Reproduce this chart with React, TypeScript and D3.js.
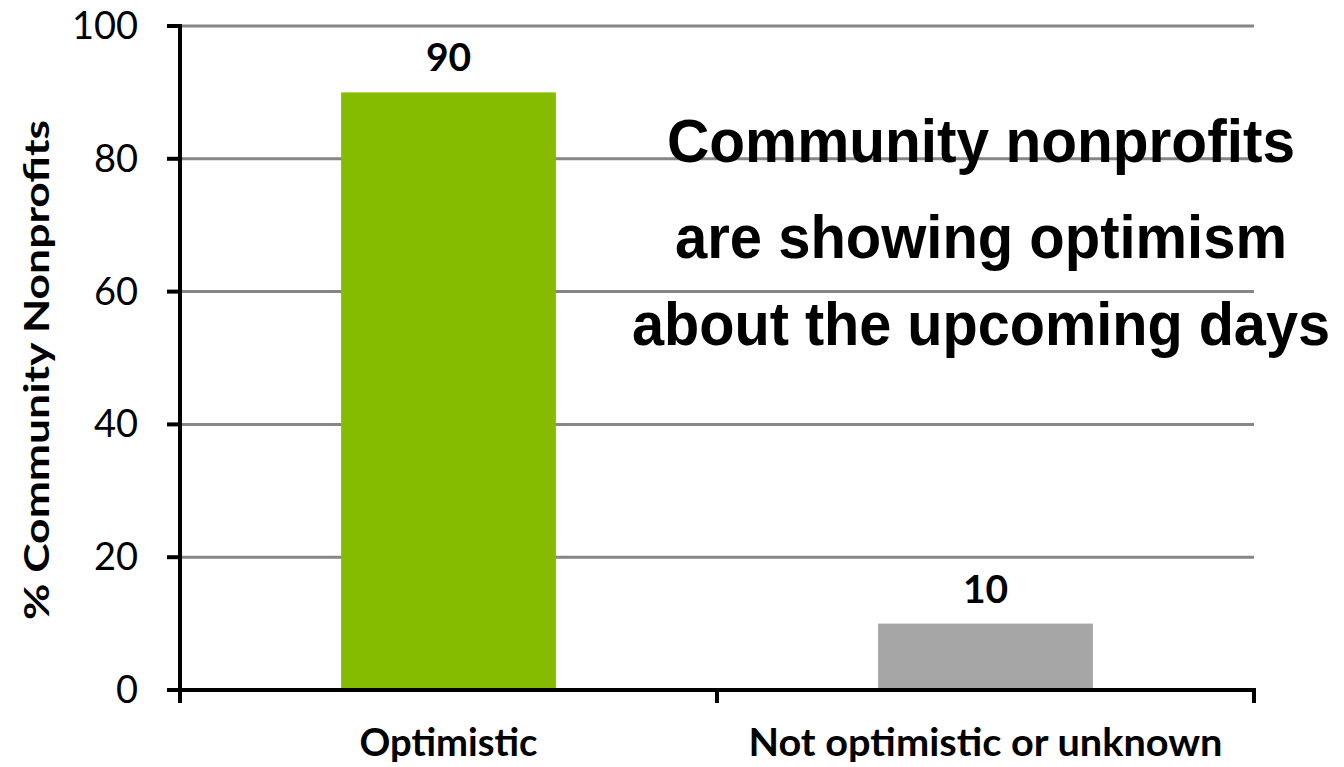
import React, { useLayoutEffect, useRef, useState } from "react";
import * as d3 from "d3";

const categories = ["Optimistic", "Not optimistic or unknown"];
const values = [90, 10];
const barColors = ["#86BC00", "#A6A6A6"];
const yTicks = [0, 20, 40, 60, 80, 100];
const yTitle = "% Community Nonprofits";
const annotation = ["Community nonprofits", "are showing optimism", "about the upcoming days"];

const W = 1344;
const H = 767;
const left = 180;
const right = 1254;
const top = 26;
const bottom = 690;

const annoLines = [
  { y: 162, len: 628, cx: 981 },
  { y: 258, len: 612, cx: 981 },
  { y: 345, len: 698, cx: 981 },
];

export default function App() {
  const x = d3.scaleBand<string>().domain(categories).range([left, right]).paddingInner(0.6).paddingOuter(0.3);
  const y = d3.scaleLinear().domain([0, 100]).range([bottom, top]);
  const step = x.step();
  const boundaries = [left, left + step, right];
  const font = "Lato, 'Open Sans', sans-serif";
  const annoFont = "'Liberation Sans', Arial, sans-serif";
  const xLabelLen = [178, 474];
  const refs = useRef<(SVGTextElement | null)[]>([]);
  const [scales, setScales] = useState<number[]>([0.96, 0.95, 0.94]);
  useLayoutEffect(() => {
    const s = annoLines.map((l, i) => {
      const el = refs.current[i];
      const w = el ? el.getComputedTextLength() : 0;
      return w > 0 ? l.len / w : 0.95;
    });
    if (s.some((v, i) => Math.abs(v - scales[i]) > 0.001)) setScales(s);
  }, []);
  return (
    <div style={{ position: "fixed", left: 0, top: 0 }}>
      <svg width={W} height={H} style={{ display: "block", background: "#fff" }}>
        {yTicks.filter((t) => t > 0).map((t) => (
          <line key={"g" + t} x1={left} x2={right} y1={y(t)} y2={y(t)} stroke="#868686" strokeWidth={3} />
        ))}
        {categories.map((c, i) => (
          <rect key={c} x={x(c)} y={y(values[i])} width={x.bandwidth()} height={y(0) - y(values[i])} fill={barColors[i]} />
        ))}
        {categories.map((c, i) => (
          <text key={"v" + c} x={(x(c) as number) + x.bandwidth() / 2} y={y(values[i]) - 21} textAnchor="middle"
            fontFamily={font} fontWeight="bold" fontSize={39} fill="#000">{values[i]}</text>
        ))}
        {/* y axis */}
        <line x1={left} x2={left} y1={top - 2} y2={703} stroke="#000" strokeWidth={4} />
        {yTicks.map((t) => (
          <g key={"t" + t}>
            <line x1={167} x2={left} y1={y(t)} y2={y(t)} stroke="#000" strokeWidth={4} />
            <text x={138} y={y(t) + 13} textAnchor="end" fontFamily={font} fontSize={38} fill="#000">{t}</text>
          </g>
        ))}
        {/* x axis */}
        <line x1={167} x2={right + 2} y1={bottom} y2={bottom} stroke="#000" strokeWidth={4} />
        {boundaries.map((b, i) => (
          <line key={"b" + i} x1={b} x2={b} y1={bottom} y2={703} stroke="#000" strokeWidth={4} />
        ))}
        {categories.map((c, i) => (
          <text key={"l" + c} x={(x(c) as number) + x.bandwidth() / 2 - xLabelLen[i] / 2} y={756}
            fontFamily={font} fontWeight="bold" fontSize={39} fill="#000"
            textLength={xLabelLen[i]} lengthAdjust="spacingAndGlyphs">{c}</text>
        ))}
        <text transform="translate(49,370) rotate(-90)" textAnchor="middle" fontFamily={font} fontWeight="bold"
          fontSize={35} fill="#000" textLength={500} lengthAdjust="spacingAndGlyphs">{yTitle}</text>
        {annotation.map((line, i) => (
          <text key={"a" + i} ref={(el) => { refs.current[i] = el; }}
            transform={`translate(${annoLines[i].cx},${annoLines[i].y}) scale(${scales[i]},1)`}
            textAnchor="middle" fontFamily={annoFont}
            fontWeight="bold" fontSize={61} fill="#000">{line}</text>
        ))}
      </svg>
    </div>
  );
}
